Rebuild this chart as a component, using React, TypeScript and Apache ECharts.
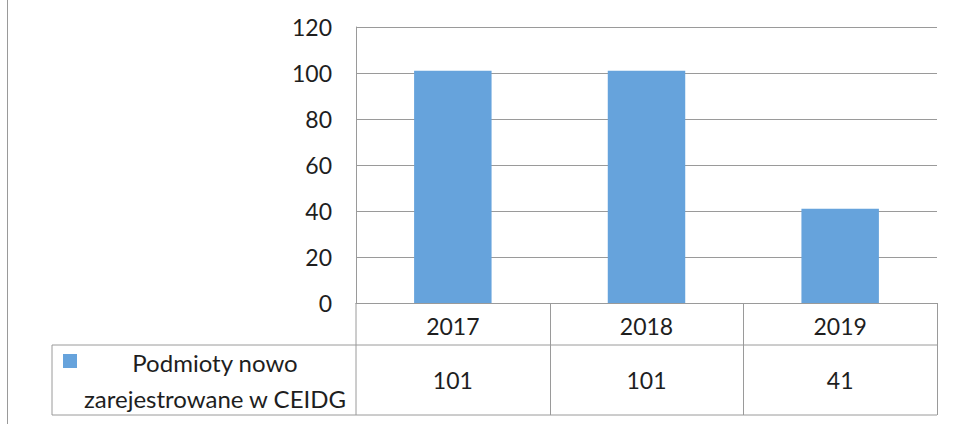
import React, { useEffect, useRef } from "react";
import * as echarts from "echarts";

const categories = ["2017", "2018", "2019"];
const seriesName = "Podmioty nowo\nzarejestrowane w CEIDG";
const values = [101, 101, 41];
const yMin = 0;
const yMax = 120;
const yInterval = 20;

export default function App() {
  const ref = useRef<HTMLDivElement>(null);

  useEffect(() => {
    document.body.style.margin = "0";
    const chart = echarts.init(ref.current!, null, { renderer: "svg" });
    const font = "Lato, 'Open Sans', sans-serif";
    const textColor = "#1e1e1e";
    const lineColor = "#9a9a9a";
    const barColor = "#66a3dc";
    const gridL = 356;
    const gridR = 937;
    const gridT = 27;
    const gridB = 303;
    const tableMid = 345;
    const tableBot = 415;
    const legendL = 52;

    chart.setOption({
      animation: false,
      backgroundColor: "#ffffff",
      grid: { left: gridL, right: 953 - gridR, top: gridT, bottom: 424 - gridB, containLabel: false },
      xAxis: {
        type: "category",
        data: categories,
        boundaryGap: true,
        axisLine: { show: true, lineStyle: { color: lineColor, width: 1 } },
        axisTick: { show: false },
        axisLabel: { color: textColor, fontFamily: font, fontSize: 23, margin: 11 },
        splitLine: { show: false },
      },
      yAxis: {
        type: "value",
        min: yMin,
        max: yMax,
        interval: yInterval,
        axisLine: { show: true, lineStyle: { color: lineColor, width: 1 } },
        axisTick: { show: false },
        axisLabel: { color: textColor, fontFamily: font, fontSize: 23, margin: 24 },
        splitLine: { show: true, lineStyle: { color: lineColor, width: 1 } },
      },
      series: [
        {
          type: "bar",
          name: seriesName,
          data: values,
          barWidth: "40%",
          itemStyle: { color: barColor },
        },
      ],
    });

    const band = (gridR - gridL) / categories.length;
    const centers = categories.map((c) => chart.convertToPixel({ xAxisIndex: 0 }, c) as number);
    const ln = (x1: number, y1: number, x2: number, y2: number) => ({
      type: "line",
      shape: { x1, y1, x2, y2 },
      style: { stroke: lineColor, lineWidth: 1 },
      silent: true,
    });

    const graphics: any[] = [
      ln(7.5, 0, 7.5, 424),
      ln(gridL, gridB, gridL, tableBot),
      ln(legendL, tableMid, gridR, tableMid),
      ln(legendL, tableBot, gridR, tableBot),
      ln(legendL, tableMid, legendL, tableBot),
    ];
    centers.forEach((cx) => {
      graphics.push(ln(Math.round(cx + band / 2) + 0.5, gridB, Math.round(cx + band / 2) + 0.5, tableBot));
    });
    values.forEach((v, i) => {
      graphics.push({
        type: "text",
        style: {
          text: String(v),
          x: centers[i],
          y: (tableMid + tableBot) / 2,
          align: "center",
          verticalAlign: "middle",
          fontFamily: font,
          fontSize: 23,
          fill: textColor,
        },
      });
    });
    graphics.push({
      type: "rect",
      shape: { x: 63, y: 354, width: 14, height: 14 },
      style: { fill: barColor },
    });
    graphics.push({
      type: "text",
      style: {
        text: seriesName,
        x: 215,
        y: (tableMid + tableBot) / 2,
        align: "center",
        verticalAlign: "middle",
        fontFamily: font,
        fontSize: 24,
        lineHeight: 36,
        fill: textColor,
      },
    });

    chart.setOption({ graphic: graphics });

    return () => chart.dispose();
  }, []);

  return <div ref={ref} style={{ width: 953, height: 424 }} />;
}
